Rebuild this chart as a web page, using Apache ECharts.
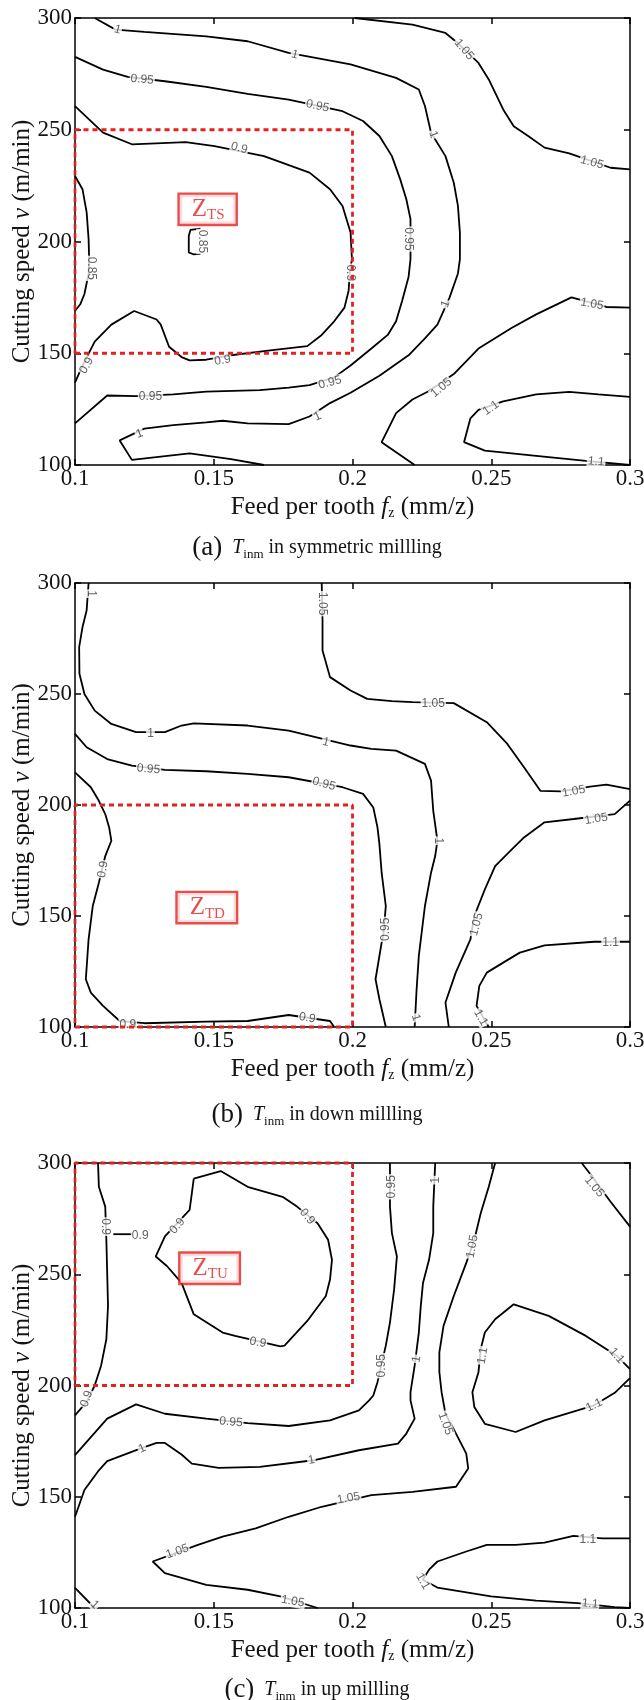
<!DOCTYPE html>
<html>
<head>
<meta charset="utf-8">
<script src="https://cdn.jsdelivr.net/npm/echarts@6/dist/echarts.min.js"></script>
<style>
html, body { margin: 0; background: #fff; }
#chart { width: 644px; height: 1700px; }
</style>
</head>
<body>
<div id="chart"></div>
<script>
// axis ranges (fz in mm/z, v in m/min)
const fzRange = [0.1, 0.3]
const vRange = [100, 300]

// ---- (a) symmetric milling : contour polylines [fz, v]
const a_1 = [[0.1071,300],[0.1146,294.8],[0.125,293.8],[0.1473,291.8],[0.1622,289.6],[0.177,284.4],[0.1993,279.2],[0.2157,273.2],[0.2239,268.0],[0.2261,260.6],[0.2283,248.7],[0.2335,238.2],[0.2365,226.3],[0.238,215.9],[0.2387,204],[0.2387,192],[0.238,185.7],[0.235,175],[0.2306,162.8],[0.2261,156.7],[0.2202,149.1],[0.2097,139.9],[0.1993,132.3],[0.1919,127.7],[0.1845,121.7],[0.177,118.3],[0.1622,118.6],[0.1532,119.8],[0.1473,119.1],[0.1354,117.8],[0.125,116.3],[0.1161,111.0],[0.1205,102.3],[0.1413,105.2],[0.1562,102.6],[0.1681,100]]
const a_095 = [[0.1,282.6],[0.1101,276.9],[0.119,273.7],[0.1324,271.7],[0.1473,269.2],[0.1622,266.1],[0.177,263.5],[0.1964,258.3],[0.2038,253.9],[0.2097,247.2],[0.2142,238.2],[0.2172,227.8],[0.2194,218.9],[0.2209,210],[0.2209,192.1],[0.2202,184.1],[0.2179,173.5],[0.2157,164.3],[0.2127,158.2],[0.2068,152.1],[0.1993,144.5],[0.1934,139.2],[0.1845,135.7],[0.177,134.6],[0.1666,133.5],[0.1473,132.8],[0.1354,131.6],[0.122,130.8],[0.1116,131.1],[0.1,118.6]]
const a_09 = [[0.1,260.6],[0.1101,248.7],[0.1205,243.5],[0.1399,244.5],[0.1503,242.7],[0.1681,238.2],[0.1845,230.8],[0.1919,223.4],[0.1964,215.9],[0.1993,204],[0.1998,192.1],[0.199,185.7],[0.1986,178],[0.1971,170.4],[0.1934,164.3],[0.1889,158.2],[0.1837,153.2],[0.1711,151.4],[0.1562,149.1],[0.1473,147.1],[0.1413,146.8],[0.1384,148.3],[0.1339,152.9],[0.1309,162.8],[0.1294,165.1],[0.1213,168.9],[0.1131,162.8],[0.1071,155.2],[0.1027,144.5],[0.1,136.9]]
const a_085 = [[0.1,229.3],[0.1027,223.4],[0.1042,213],[0.1049,201.1],[0.1051,192.1],[0.1049,185.7],[0.1034,176.5],[0.1019,171.9],[0.1,168.9]]
const a_085s = [[0.1452,205.8],[0.1416,205.2],[0.141,202.5],[0.141,195.1],[0.1428,194.2],[0.1452,194.5]]
const a_105t = [[0.2008,300],[0.2216,297],[0.2335,293.3],[0.2379,288.8],[0.2454,279.9],[0.2491,272.5],[0.2543,259.1],[0.2581,251.6],[0.2633,247.2],[0.2692,242],[0.2781,239.4],[0.293,233],[0.3,232.3]]
const a_105b = [[0.2224,100],[0.2105,110.2],[0.2157,123.2],[0.2216,129.3],[0.2276,133.1],[0.2365,140.7],[0.2454,152.1],[0.2573,161.3],[0.2662,167.4],[0.2789,175],[0.2915,170.7],[0.3,170.4]]
const a_11 = [[0.3,130.5],[0.2886,131.6],[0.2781,132.7],[0.2662,131.6],[0.2543,128.5],[0.2454,124.7],[0.2425,120.9],[0.2402,110.2],[0.2477,106.4],[0.2662,104.1],[0.2841,101.8],[0.3,100]]
// contour labels [fz, v, text, rotation]
const labelsA = [
  [0.1153,294.8,'1',-15],[0.1792,283.6,'1',-15],[0.2291,247.9,'1',-70],[0.2335,172,'1',70],
  [0.1874,121.7,'1',25],[0.1232,114,'1',20],
  [0.1242,272.5,'0.95',-5],[0.1874,260.6,'0.95',-12],[0.2202,201.1,'0.95',-90],[0.1919,136.9,'0.95',15],[0.1272,130.5,'0.95',0],
  [0.1592,241.8,'0.9',-15],[0.1993,186,'0.9',-90],[0.1532,146.8,'0.9',10],[0.1042,144.5,'0.9',60],
  [0.106,188,'0.85',-90],[0.1458,200,'0.85',-90],
  [0.2402,285.9,'1.05',-50],[0.2863,235.3,'1.05',-15],[0.232,134.6,'1.05',40],[0.2863,172,'1.05',-10],
  [0.2499,125.5,'1.1',35],[0.2878,101.5,'1.1',-5]
]

// ---- (b) down milling
const b_1 = [[0.1049,300],[0.1042,287.7],[0.1027,280.1],[0.1015,271.1],[0.1016,259.1],[0.1034,250],[0.1071,242.5],[0.1131,236.5],[0.122,232.8],[0.1324,232.8],[0.1384,235.8],[0.1428,236.8],[0.1622,235.8],[0.177,233.5],[0.1993,226.8],[0.2068,225.3],[0.2157,224.5],[0.2261,218.5],[0.2283,211],[0.2291,197.4],[0.2306,183.9],[0.2298,177],[0.2283,169.5],[0.2261,154.5],[0.2239,132],[0.2231,117],[0.2224,100]]
const b_095 = [[0.1,232],[0.1042,226],[0.1116,220.7],[0.1205,217.7],[0.1324,215.8],[0.1473,215.2],[0.1622,214],[0.177,212.5],[0.1964,208],[0.2038,205],[0.2075,198.9],[0.209,189.9],[0.2097,182.4],[0.2105,169.5],[0.212,154.5],[0.2112,142.5],[0.2105,138],[0.2083,121.5],[0.2097,112.5],[0.212,100]]
const b_09 = [[0.1,214.7],[0.1057,208],[0.1086,201.9],[0.1109,195.9],[0.1123,189.9],[0.1131,183.9],[0.1109,177],[0.1086,165],[0.1064,154.5],[0.1049,139.5],[0.1039,121.5],[0.1057,115.5],[0.1101,109.5],[0.1161,102.7],[0.125,101.7],[0.1473,102.4],[0.1622,102.7],[0.177,105.4],[0.1919,102.7],[0.1934,100]]
const b_105t = [[0.1889,300],[0.1892,283.2],[0.1892,269.6],[0.1919,257.6],[0.1993,251.6],[0.2053,247.8],[0.2142,246.8],[0.2216,246.3],[0.2365,245.9],[0.2484,237.3],[0.2558,227.5],[0.2618,217],[0.2677,206.4],[0.2752,206.1],[0.2856,208.3],[0.2915,209.2],[0.3,207.2]]
const b_105b = [[0.3,202],[0.2945,195.9],[0.2797,193.7],[0.2692,192.2],[0.2618,185.4],[0.2566,179],[0.2514,172.5],[0.2477,162],[0.2439,150],[0.2425,139.5],[0.2372,124.5],[0.2335,111],[0.2347,100]]
const b_11 = [[0.3,138.4],[0.2871,138.4],[0.2692,136.8],[0.2603,133.5],[0.2543,129],[0.2484,124.5],[0.2457,118.5],[0.2447,109.5],[0.2491,100]]
const labelsB = [
  [0.1057,295.2,'1',-90],[0.1272,232.3,'1',0],[0.1904,228.3,'1',-15],[0.2309,183.9,'1',-90],[0.2228,104.2,'1',-75],
  [0.1265,216.2,'0.95',-5],[0.1897,209.5,'0.95',-15],[0.212,144,'0.95',90],
  [0.1101,171,'0.9',80],[0.119,101.2,'0.9',0],[0.1837,104.1,'0.9',-10],
  [0.1892,290.7,'1.05',-90],[0.2291,245.6,'1.05',0],[0.2797,206.1,'1.05',10],[0.2878,193.7,'1.05',10],[0.2447,146.2,'1.05',75],
  [0.293,138.1,'1.1',0],[0.2462,104.2,'1.1',-60]
]

// ---- (c) up milling
const c_09l = [[0.1083,300],[0.1086,289.3],[0.1109,280.4],[0.1113,265.5],[0.1116,250.6],[0.1119,235.7],[0.1113,220.8],[0.1094,208.9],[0.1071,200],[0.1042,192.6],[0.1,186.6]]
const c_09s = [[0.1138,268],[0.1205,268]]
const c_09i = [[0.1428,293],[0.1525,296.4],[0.1622,289.3],[0.1748,284.8],[0.18,280.4],[0.1874,272.9],[0.1912,265.5],[0.1926,256.5],[0.1919,247.6],[0.1904,240.2],[0.1837,229],[0.1755,217.9],[0.174,217.6],[0.1577,222.3],[0.1532,223.8],[0.1428,232],[0.1384,246.1],[0.1332,253.6],[0.1291,258],[0.1324,267],[0.1413,278.9],[0.1421,286.3],[0.1428,293]]
const c_095 = [[0.2135,300],[0.2135,280.4],[0.2142,268.5],[0.216,258],[0.215,243.2],[0.2135,228.3],[0.212,217.9],[0.209,201.5],[0.2075,195.5],[0.206,193.3],[0.2023,188.8],[0.1919,184.3],[0.177,181.8],[0.1622,183.1],[0.1473,185.1],[0.1324,187.3],[0.122,191.5],[0.1116,185.1],[0.1,168.7]]
const c_1 = [[0.2298,300],[0.2291,280.4],[0.2291,268.5],[0.2276,256.6],[0.2254,246.1],[0.2246,235.7],[0.2239,223.8],[0.2224,208.9],[0.2209,197],[0.2209,193.3],[0.2224,185.1],[0.2194,178.4],[0.2164,173.9],[0.2023,170.9],[0.1859,166.4],[0.1666,163.4],[0.1518,163],[0.1421,164.9],[0.1384,169],[0.1324,174.2],[0.1294,174.2],[0.1235,171.6],[0.1116,166],[0.1086,161.9],[0.1034,153],[0.1,141]]
const c_1c = [[0.1,109],[0.1071,100]]
const c_105 = [[0.2514,300],[0.2491,289.3],[0.2462,277.4],[0.2439,265.5],[0.241,255.1],[0.2365,240.2],[0.2328,226.8],[0.2313,214.9],[0.2313,206],[0.2321,197],[0.2335,187.3],[0.2373,178.4],[0.241,169.4],[0.2417,162.7],[0.2373,154.5],[0.2216,152.2],[0.2068,150.7],[0.1889,145.5],[0.177,141],[0.1651,135.8],[0.1532,132.1],[0.1443,128.4],[0.128,120.9],[0.1324,115.7],[0.1473,110.4],[0.1622,108.2],[0.174,105.2],[0.1874,100]]
const c_105r = [[0.2826,300],[0.2856,295.2],[0.293,282.6],[0.3,271.4]]
const c_11i = [[0.3,203.3],[0.2945,196.7],[0.2871,191.1],[0.2811,188.8],[0.2692,184.3],[0.2588,179.1],[0.2477,182.8],[0.2439,190.3],[0.2432,197],[0.2454,206],[0.2462,216.4],[0.2477,223.8],[0.2514,229.8],[0.2581,236.5],[0.2707,231.3],[0.2841,222.3],[0.2952,213.4],[0.3,207.4]]
const c_11b = [[0.3,131.3],[0.29,131.3],[0.2796,132.4],[0.2692,129.4],[0.2588,128.4],[0.2484,128.4],[0.241,125.4],[0.2306,120.9],[0.2276,117.2],[0.2253,112.7],[0.2306,109.2],[0.2499,105.2],[0.2662,103.3],[0.2811,102.2],[0.2945,100.4],[0.3,100]]
const labelsC = [
  [0.1109,271.4,'0.9',-90],[0.1235,267.3,'0.9',0],[0.1369,271.7,'0.9',50],[0.1837,275.9,'0.9',-50],[0.1659,219.3,'0.9',-10],[0.1042,194,'0.9',70],
  [0.2142,289.3,'0.95',90],[0.2105,208.9,'0.95',90],[0.1562,183.6,'0.95',-5],
  [0.2298,292.3,'1',90],[0.2231,211.9,'1',80],[0.1852,166.4,'1',10],[0.1242,171.6,'1',25],[0.1071,101.5,'1',-45],
  [0.2432,262.5,'1.05',80],[0.2871,289.3,'1.05',-50],[0.2335,182.8,'1.05',-70],[0.1986,149.3,'1.05',10],[0.1369,125.4,'1.05',20],[0.1785,103,'1.05',-10],
  [0.2469,213.4,'1.1',80],[0.2952,213.4,'1.1',-50],[0.2871,191.1,'1.1',25],[0.2848,130.6,'1.1',0],[0.2253,112,'1.1',-60],[0.2856,101.9,'1.1',-5]
]

// zone boxes [fzMin, fzMax, vMin, vMax] and their tags
const zones = [[0.1, 0.2, 150, 250], [0.1, 0.2, 100, 200], [0.1, 0.2, 200, 300]]
const zoneTags = [['TS', 0.1478, 214.4], ['TD', 0.1475, 153.8], ['TU', 0.1485, 252.7]]
const captionTags = ['(a)', '(b)', '(c)']
const captionText = [' in symmetric millling', ' in down millling', ' in up millling']

const panels = [
  { top: 18, h: 447, lines: [a_1, a_095, a_09, a_085, a_085s, a_105t, a_105b, a_11], labels: labelsA, capY: 548 },
  { top: 583, h: 444, lines: [b_1, b_095, b_09, b_105t, b_105b, b_11], labels: labelsB, capY: 1115 },
  { top: 1163, h: 445, lines: [c_09l, c_09s, c_09i, c_095, c_1, c_1c, c_105, c_105r, c_11i, c_11b], labels: labelsC, capY: 1690 }
]

const SERIF = '"Liberation Serif", "Times New Roman", serif'
const RED = '#e3211f'
const INK = '#141414'
const axLine = { show: true, lineStyle: { color: '#000', width: 1.5 } }
const axTick = { show: true, inside: true, length: 6, lineStyle: { color: '#000', width: 1.5 } }

const chart = echarts.init(document.getElementById('chart'), null, { renderer: 'canvas' })

const grid = [], xAxis = [], yAxis = [], series = [], graphic = []
panels.forEach((p, i) => {
  grid.push({ left: 75, top: p.top, width: 555, height: p.h, outerBoundsMode: 'none', containLabel: false })
  xAxis.push({
    gridIndex: i, type: 'value', min: fzRange[0], max: fzRange[1], interval: 0.05, position: 'bottom',
    axisLine: axLine, axisTick: axTick, splitLine: { show: false },
    axisLabel: { fontFamily: SERIF, fontSize: 23, color: INK, margin: 2, showMinLabel: true, showMaxLabel: true },
    name: '{n|Feed per tooth }{i|f}{s|z}{n| (mm/z)}', nameLocation: 'middle', nameGap: 30, nameMoveOverlap: false,
    nameTextStyle: { rich: {
      n: { fontFamily: SERIF, fontSize: 25, color: INK },
      i: { fontFamily: SERIF, fontSize: 25, fontStyle: 'italic', color: INK },
      s: { fontFamily: SERIF, fontSize: 14, color: INK, verticalAlign: 'bottom', padding: [9, 0, 0, 0] }
    } }
  })
  xAxis.push({
    gridIndex: i, type: 'value', min: fzRange[0], max: fzRange[1], interval: 0.05, position: 'top',
    axisLine: axLine, axisTick: axTick, axisLabel: { show: false }, splitLine: { show: false }
  })
  yAxis.push({
    gridIndex: i, type: 'value', min: vRange[0], max: vRange[1], interval: 50, position: 'left',
    axisLine: axLine, axisTick: axTick, splitLine: { show: false },
    axisLabel: { fontFamily: SERIF, fontSize: 23, color: INK, margin: 3, showMinLabel: true, showMaxLabel: true },
    name: '{n|Cutting speed }{i|v}{n| (m/min)}', nameLocation: 'middle', nameRotate: 90, nameGap: 40, nameMoveOverlap: false,
    nameTextStyle: { rich: {
      n: { fontFamily: SERIF, fontSize: 25, color: INK },
      i: { fontFamily: SERIF, fontSize: 25, fontStyle: 'italic', color: INK }
    } }
  })
  yAxis.push({
    gridIndex: i, type: 'value', min: vRange[0], max: vRange[1], interval: 50, position: 'right',
    axisLine: axLine, axisTick: axTick, axisLabel: { show: false }, splitLine: { show: false }
  })

  const xi = 2 * i, yi = 2 * i
  p.lines.forEach((pts) => {
    series.push({
      type: 'line', xAxisIndex: xi, yAxisIndex: yi, data: pts, symbol: 'none', silent: true,
      lineStyle: { color: '#000', width: 1.8 }, z: 2, animation: false
    })
  })

  // contour labels sit on white boxes so the line looks broken there
  series.push({
    type: 'scatter', xAxisIndex: xi, yAxisIndex: yi, symbolSize: 1, silent: true, z: 4, animation: false,
    itemStyle: { color: 'rgba(0,0,0,0)' },
    data: p.labels.map((l) => ({ value: [l[0], l[1]], name: l[2], label: { rotate: l[3] } })),
    label: {
      show: true, position: 'inside', formatter: (d) => d.name,
      fontFamily: '"Liberation Sans", Arial, sans-serif', fontSize: 12, color: '#3a3a3a',
      backgroundColor: '#fff', padding: [0, 1]
    }
  })

  // red dashed zone
  const z = zones[i]
  series.push({
    type: 'line', xAxisIndex: xi, yAxisIndex: yi, symbol: 'none', silent: true, clip: false, z: 6, animation: false,
    data: [[z[0], z[2]], [z[1], z[2]], [z[1], z[3]], [z[0], z[3]], [z[0], z[2]]],
    lineStyle: { color: RED, width: 2.8, type: [5, 4] }
  })
  const t = zoneTags[i]
  series.push({
    type: 'scatter', xAxisIndex: xi, yAxisIndex: yi, symbolSize: 1, silent: true, z: 7, animation: false,
    itemStyle: { color: 'rgba(0,0,0,0)' },
    data: [{ value: [t[1], t[2]], name: t[0] }],
    label: {
      show: true, position: 'inside', formatter: (d) => '{z|Z}{s|' + d.name + '}',
      backgroundColor: '#fff', borderColor: RED, borderWidth: 2.4, padding: [1, 11, 1, 12],
      rich: {
        z: { fontFamily: SERIF, fontSize: 25, color: RED, lineHeight: 27 },
        s: { fontFamily: SERIF, fontSize: 15, color: RED, verticalAlign: 'bottom', lineHeight: 27, padding: [9, 0, 0, 0] }
      }
    }
  })

  graphic.push({
    type: 'text', x: 317, y: p.capY,
    style: {
      text: '{p|' + captionTags[i] + '}{g| }{t|T}{s|inm}{n|' + captionText[i] + '}',
      align: 'center', verticalAlign: 'middle',
      rich: {
        p: { fontFamily: SERIF, fontSize: 27, fill: INK },
        g: { fontFamily: SERIF, fontSize: 19, fill: INK, width: 10 },
        t: { fontFamily: SERIF, fontSize: 20, fontStyle: 'italic', fill: INK },
        s: { fontFamily: SERIF, fontSize: 13, fill: INK, verticalAlign: 'bottom', padding: [8, 0, 0, 0] },
        n: { fontFamily: SERIF, fontSize: 20, fill: INK }
      }
    }
  })
})

chart.setOption({ animation: false, backgroundColor: '#fff', grid, xAxis, yAxis, series, graphic })
</script>
</body>
</html>
